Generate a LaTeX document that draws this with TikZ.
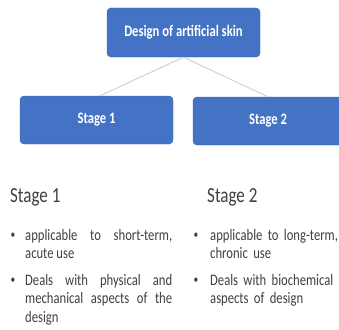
\documentclass[tikz,border=0pt]{standalone}
\usepackage{fontspec}
\setmainfont[FakeStretch=0.79]{Carlito}
\definecolor{boxblue}{HTML}{4472C4}
\definecolor{boxedge}{HTML}{3B64AE}
\definecolor{linkgray}{HTML}{CFCFCF}
\definecolor{bodytext}{HTML}{404040}
\begin{document}
\begin{tikzpicture}[x=1pt,y=-1pt,
  stagebox/.style={rectangle,rounded corners=4pt,fill=boxblue,draw=boxedge,line width=0.4pt,
    text=white,font=\fontsize{16}{18}\selectfont\bfseries,inner sep=0pt},
  link/.style={draw=linkgray,line width=0.9pt},
  heading/.style={anchor=base west,inner sep=0pt,text=bodytext,font=\fontsize{21.5}{24}\selectfont},
  dot/.style={anchor=center,inner sep=0pt,text=bodytext,font=\fontsize{12}{14}\selectfont},
  item/.style={anchor=base west,inner sep=0pt,text=bodytext,
    font=\fontsize{16}{18.5}\selectfont,align=justify}]
\useasboundingbox (0,0) rectangle (339,329);
\fill[white] (0,0) rectangle (339,329);

% boxes of the tree
\node[stagebox,minimum width=153pt,minimum height=49pt] (root) at (183.5,32.5) {Design of artificial skin};
\node[stagebox,minimum width=153pt,minimum height=48pt] (s1) at (96.5,120) {Stage 1};
\node[stagebox,minimum width=150pt,minimum height=48pt] (s2) at (268,121) {Stage 2};
\draw[link] (root.south) -- ([xshift=3.5pt]s1.north);
\draw[link] (root.south) -- (s2.north);

% left column
\node[heading] (h1) at (10,202) {Stage 1};
\node[dot] (b1) at (13,236) {•};
\node[item,text width=147pt] (t1) at (25,240) {applicable to short-term,\linebreak acute use};
\node[dot] (b2) at (13,281) {•};
\node[item,text width=147pt] (t2) at (25,285) {Deals with physical and\linebreak mechanical aspects of the\linebreak design};

% right column
\node[heading] (h2) at (207,202) {Stage 2};
\node[dot] (b3) at (196,236) {•};
\node[item,text width=129pt,align=left] (t3) at (210,240) {applicable to long-term,\\ chronic use};
\node[dot] (b4) at (196,281) {•};
\node[item,text width=129pt,align=left] (t4) at (210,285) {Deals with biochemical\\ aspects of design};
\end{tikzpicture}
\end{document}
